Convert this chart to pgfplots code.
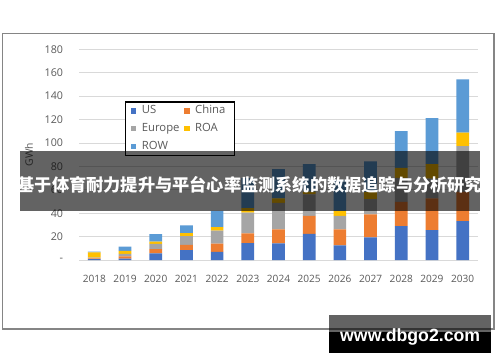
\documentclass[border=0pt]{standalone}
\usepackage{pgfplots}
\pgfplotsset{compat=1.18}
\usepackage{fontspec}
\setmainfont{Open Sans}
\newfontfamily\cjk{Noto Sans CJK SC}
\newfontfamily\wmfont{Liberation Sans}
\definecolor{cUS}{HTML}{4472C4}
\definecolor{cChina}{HTML}{ED7D31}
\definecolor{cEurope}{HTML}{A5A5A5}
\definecolor{cROA}{HTML}{FFC000}
\definecolor{cROW}{HTML}{5B9BD5}
\definecolor{txt}{HTML}{595959}
\definecolor{gridc}{HTML}{D9D9D9}
\definecolor{framec}{HTML}{858585}
\begin{document}
\begin{tikzpicture}[x=1pt,y=1pt]
\path[use as bounding box] (0,0) rectangle (500,362);
\fill[white] (0,0) rectangle (500,362);
\draw[framec, line width=1.4pt] (2.7,33) rectangle (494,328.7);
\begin{axis}[
  at={(79pt,102pt)}, anchor=south west,
  scale only axis, width=399pt, height=210.7pt,
  ybar stacked, bar width=12.7pt,
  xmin=-0.5, xmax=12.5, ymin=0, ymax=180,
  xtick={0,1,2,3,4,5,6,7,8,9,10,11,12},
  xticklabels={2018,2019,2020,2021,2022,2023,2024,2025,2026,2027,2028,2029,2030},
  ytick={0,20,40,60,80,100,120,140,160,180},
  yticklabels={-,20,40,60,80,100,120,140,160,180},
  ymajorgrids, grid style={gridc, line width=0.8pt},
  axis line style={draw=none},
  major tick length=0pt,
  tick label style={text=txt},
  xticklabel style={font=\fontsize{10.1}{12}\selectfont, anchor=base, yshift=-22.6pt},
  yticklabel style={font=\fontsize{10.7}{12}\selectfont, anchor=east, inner sep=0pt, xshift=-15.7pt},
  ylabel={GWh},
  ylabel style={at={(axis description cs:-0.125,0.5)}, anchor=center, font=\fontsize{10.3}{12}\selectfont, text=txt},
  legend columns=2,
  legend cell align=left,
  legend style={at={(axis description cs:0.116,0.753)}, anchor=north west,
    draw=black, line width=1.2pt, fill=white,
    font=\fontsize{11.3}{13}\selectfont, text=txt,
    inner xsep=5pt, inner ysep=2pt,
    nodes={inner sep=2pt, text width=32pt, text height=8pt, text depth=2pt},
    row sep=3.7pt,
    /tikz/every odd column/.append style={column sep=3.4pt},
    /tikz/every even column/.append style={column sep=8.3pt}},
  legend image code/.code={\fill[#1, draw=none] (0pt,-2.8pt) rectangle (5.6pt,2.8pt);},
]
\addplot[fill=cUS, draw=none] coordinates {(0,0.7) (1,1.2) (2,5.7) (3,8.5) (4,7.0) (5,14.5) (6,14.2) (7,22.4) (8,12.5) (9,19.4) (10,29.0) (11,25.6) (12,33.3)};
\addplot[fill=cChina, draw=none] coordinates {(0,0.7) (1,1.8) (2,3.5) (3,4.5) (4,7.0) (5,8.3) (6,12.0) (7,15.4) (8,13.7) (9,19.6) (10,20.7) (11,27.0) (12,25.0)};
\addplot[fill=cEurope, draw=none] coordinates {(0,0.6) (1,2.2) (2,4.5) (3,7.5) (4,11.0) (5,17.6) (6,22.7) (7,18.3) (8,11.4) (9,13.0) (10,20.5) (11,17.0) (12,38.9)};
\addplot[fill=cROA, draw=none] coordinates {(0,4.5) (1,2.6) (2,2.0) (3,2.5) (4,3.0) (5,4.0) (6,3.8) (7,2.3) (8,4.3) (9,6.3) (10,8.5) (11,12.2) (12,11.7)};
\addplot[fill=cROW, draw=none] coordinates {(0,0.6) (1,3.6) (2,6.5) (3,6.5) (4,14.0) (5,25.6) (6,25.0) (7,23.6) (8,26.5) (9,26.0) (10,31.3) (11,39.5) (12,45.5)};
\legend{US,China,Europe,ROA,ROW}
\end{axis}
% overlay band with title
\fill[black, fill opacity=0.61] (20,151) rectangle (480,211);
\node[text=white, font=\cjk\bfseries\fontsize{17.2}{20}\selectfont, inner sep=0pt] at (249.8,177.5) {基于体育耐力提升与平台心率监测系统的数据追踪与分析研究};
% watermark
\fill[black, fill opacity=0.61] (329.3,30.3) rectangle (491,47);
\fill[black] (329.3,9.3) rectangle (491,30.3);
\node[anchor=base, text=white, font=\wmfont\bfseries\fontsize{17.7}{20}\selectfont, inner sep=0pt] at (410.2,20.3) {www.dbgo2.com};
\end{tikzpicture}
\end{document}
